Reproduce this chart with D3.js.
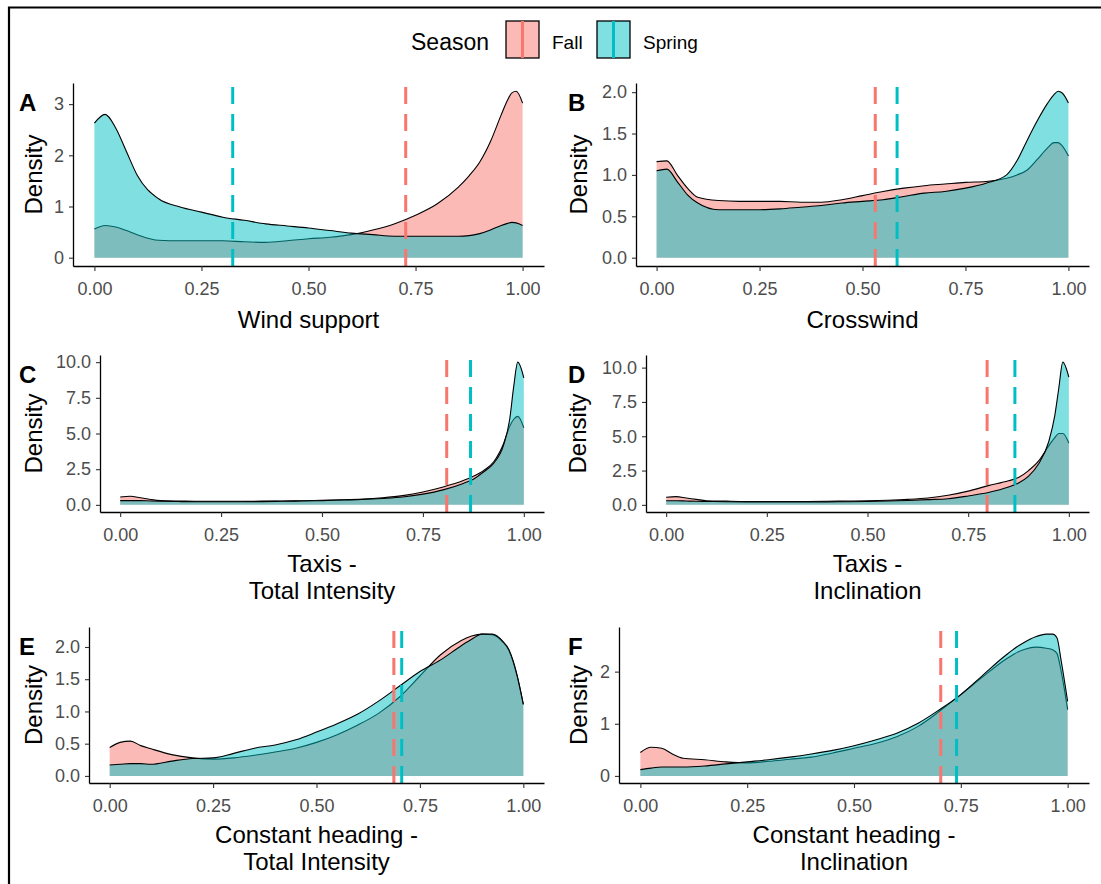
<!DOCTYPE html>
<html>
<head>
<meta charset="utf-8">
<script src="https://cdn.jsdelivr.net/npm/d3@7"></script>
<style>
  body { margin: 0; background: #fff; }
  svg { display: block; }
</style>
</head>
<body>
<div id="chart"></div>
<script>
  // Density curves on a shared x grid
  const xGrid = [0, 0.025, 0.05, 0.075, 0.1, 0.15, 0.2, 0.25, 0.3, 0.35, 0.4, 0.45, 0.5, 0.55,
    0.6, 0.65, 0.7, 0.75, 0.8, 0.85, 0.875, 0.9, 0.925, 0.95, 0.965, 0.975, 0.985, 1];

  const windFall = [0.56, 0.63, 0.60, 0.53, 0.45, 0.34, 0.33, 0.33, 0.33, 0.31, 0.30, 0.33, 0.37, 0.40,
    0.45, 0.54, 0.66, 0.83, 1.05, 1.38, 1.60, 1.87, 2.27, 2.79, 3.08, 3.22, 3.25, 3.02];
  const windSpring = [2.63, 2.80, 2.53, 2.07, 1.61, 1.15, 0.99, 0.89, 0.79, 0.73, 0.66, 0.62, 0.58, 0.53,
    0.48, 0.45, 0.42, 0.42, 0.42, 0.42, 0.43, 0.47, 0.54, 0.63, 0.67, 0.69, 0.68, 0.63];

  const crossFall = [1.16, 1.17, 1.00, 0.84, 0.73, 0.69, 0.68, 0.68, 0.68, 0.67, 0.67, 0.70, 0.75, 0.80,
    0.84, 0.87, 0.89, 0.91, 0.92, 0.96, 1.00, 1.06, 1.19, 1.33, 1.39, 1.39, 1.35, 1.23];
  const crossSpring = [1.05, 1.07, 0.92, 0.76, 0.66, 0.58, 0.58, 0.58, 0.59, 0.61, 0.63, 0.66, 0.68, 0.70,
    0.74, 0.78, 0.80, 0.84, 0.90, 1.00, 1.17, 1.42, 1.66, 1.87, 1.97, 2.01, 1.99, 1.87];

  const taxisIntFall = [0.55, 0.60, 0.50, 0.38, 0.30, 0.27, 0.25, 0.25, 0.25, 0.26, 0.27, 0.29, 0.32, 0.35,
    0.40, 0.50, 0.65, 0.90, 1.25, 1.70, 2.00, 2.40, 3.00, 4.30, 5.50, 6.00, 6.20, 5.40];
  const taxisIntSpring = [0.30, 0.30, 0.30, 0.27, 0.25, 0.23, 0.22, 0.22, 0.22, 0.23, 0.25, 0.27, 0.30, 0.34,
    0.38, 0.45, 0.55, 0.75, 1.05, 1.50, 1.80, 2.30, 2.90, 4.20, 6.00, 8.30, 10.0, 8.90];

  const taxisIncFall = [0.55, 0.60, 0.50, 0.40, 0.30, 0.27, 0.25, 0.25, 0.25, 0.25, 0.26, 0.28, 0.30, 0.34,
    0.40, 0.50, 0.70, 1.00, 1.40, 1.75, 2.00, 2.50, 3.20, 4.30, 4.90, 5.20, 5.20, 4.50];
  const taxisIncSpring = [0.30, 0.30, 0.28, 0.26, 0.25, 0.23, 0.22, 0.22, 0.22, 0.22, 0.22, 0.23, 0.25, 0.28,
    0.32, 0.38, 0.45, 0.65, 0.90, 1.30, 1.60, 2.10, 3.00, 4.60, 6.50, 8.50, 10.4, 9.30];

  const headIntFall = [0.44, 0.52, 0.54, 0.47, 0.42, 0.33, 0.28, 0.26, 0.28, 0.32, 0.37, 0.43, 0.52, 0.64,
    0.79, 0.97, 1.22, 1.55, 1.88, 2.10, 2.17, 2.20, 2.19, 2.08, 1.95, 1.78, 1.55, 1.11];
  const headIntSpring = [0.17, 0.18, 0.19, 0.19, 0.18, 0.23, 0.27, 0.28, 0.35, 0.43, 0.48, 0.56, 0.68, 0.81,
    0.96, 1.16, 1.39, 1.62, 1.80, 2.02, 2.12, 2.20, 2.20, 2.09, 1.96, 1.79, 1.56, 1.11];

  const headIncFall = [0.45, 0.55, 0.53, 0.42, 0.34, 0.31, 0.27, 0.25, 0.28, 0.32, 0.36, 0.44, 0.53, 0.62,
    0.75, 0.95, 1.24, 1.56, 1.89, 2.21, 2.34, 2.43, 2.47, 2.45, 2.42, 2.35, 2.00, 1.27];
  const headIncSpring = [0.12, 0.15, 0.17, 0.17, 0.17, 0.19, 0.23, 0.27, 0.31, 0.36, 0.42, 0.49, 0.58, 0.69,
    0.82, 1.01, 1.27, 1.56, 1.92, 2.28, 2.44, 2.57, 2.67, 2.72, 2.72, 2.65, 2.20, 1.43];

  // Season means (dashed lines), panels A-F
  const meanFall = [0.727, 0.531, 0.809, 0.797, 0.687, 0.703];
  const meanSpring = [0.323, 0.584, 0.868, 0.866, 0.706, 0.740];

  const seasons = ["Fall", "Spring"];
  const panelLetters = ["A", "B", "C", "D", "E", "F"];
  const xTitles = [["Wind support"], ["Crosswind"], ["Taxis -", "Total Intensity"], ["Taxis -", "Inclination"],
    ["Constant heading -", "Total Intensity"], ["Constant heading -", "Inclination"]];
  const xTicks = [0, 0.25, 0.5, 0.75, 1];
  const yTicks = [[0, 1, 2, 3], [0, 0.5, 1, 1.5, 2], [0, 2.5, 5, 7.5, 10], [0, 2.5, 5, 7.5, 10],
    [0, 0.5, 1, 1.5, 2], [0, 1, 2]];
  const yTickFormats = ["d", ".1f", ".1f", ".1f", ".1f", "d"];

  const fallSeries = [windFall, crossFall, taxisIntFall, taxisIncFall, headIntFall, headIncFall];
  const springSeries = [windSpring, crossSpring, taxisIntSpring, taxisIncSpring, headIntSpring, headIncSpring];

  // Layout
  const width = 1101, height = 884;
  const font = "'Liberation Sans', Arial, sans-serif";
  const colors = { Fall: "#F8766D", Spring: "#00BFC4" };
  const boxes = [
    { left: 73, right: 544, top: 83, bottom: 266, densX: 42, titleY: 328 },
    { left: 636, right: 1089, top: 83, bottom: 266, densX: 587, titleY: 328 },
    { left: 100, right: 544, top: 355, bottom: 512, densX: 42, titleY: 572 },
    { left: 646, right: 1089, top: 355, bottom: 512, densX: 586, titleY: 572 },
    { left: 89, right: 544, top: 627, bottom: 783, densX: 42, titleY: 843 },
    { left: 619, right: 1089, top: 627, bottom: 783, densX: 587, titleY: 843 }
  ];

  const svg = d3.select("#chart")
    .append("svg")
    .attr("width", width)
    .attr("height", height)
    .style("font-family", font);

  // outer frame (top and left edges only)
  svg.append("path")
    .attr("d", `M9,${height} V7.5 H${width}`)
    .attr("fill", "none")
    .attr("stroke", "#000")
    .attr("stroke-width", 2.2);

  boxes.forEach((b, i) => {
    const fall = fallSeries[i], spring = springSeries[i];
    const ymax = d3.max(fall.concat(spring));
    const x = d3.scaleLinear().domain([-0.05, 1.05]).range([b.left, b.right]);
    const y = d3.scaleLinear().domain([-0.05 * ymax, 1.05 * ymax]).range([b.bottom, b.top]);

    const area = d3.area()
      .x((d, j) => x(xGrid[j]))
      .y0(y(0))
      .y1(d => y(d))
      .curve(d3.curveMonotoneX);
    const line = d3.line()
      .x((d, j) => x(xGrid[j]))
      .y(d => y(d))
      .curve(d3.curveMonotoneX);

    const g = svg.append("g");

    [fall, spring].forEach((series, k) => {
      g.append("path")
        .attr("d", area(series))
        .attr("fill", colors[seasons[k]])
        .attr("fill-opacity", 0.5);
      g.append("path")
        .attr("d", line(series))
        .attr("fill", "none")
        .attr("stroke", "#000")
        .attr("stroke-width", 1.1);
    });

    // mean lines
    [meanFall[i], meanSpring[i]].forEach((m, k) => {
      g.append("line")
        .attr("x1", x(m)).attr("x2", x(m))
        .attr("y1", b.bottom).attr("y2", b.top)
        .attr("stroke", colors[seasons[k]])
        .attr("stroke-width", 3)
        .attr("stroke-dasharray", "17,10");
    });

    // axes
    const xAxis = g.append("g")
      .attr("transform", `translate(0,${b.bottom})`)
      .call(d3.axisBottom(x).tickValues(xTicks).tickFormat(d3.format(".2f"))
        .tickSize(5).tickPadding(11).tickSizeOuter(0));
    const yAxis = g.append("g")
      .attr("transform", `translate(${b.left},0)`)
      .call(d3.axisLeft(y).tickValues(yTicks[i]).tickFormat(d3.format(yTickFormats[i]))
        .tickSize(4).tickPadding(5).tickSizeOuter(0));

    [xAxis, yAxis].forEach(ax => {
      ax.attr("font-family", font).attr("font-size", 18);
      ax.select(".domain").attr("stroke", "#000").attr("stroke-width", 1.3);
      ax.selectAll(".tick line").attr("stroke", "#333").attr("stroke-width", 1.1);
      ax.selectAll(".tick text").attr("fill", "#4D4D4D");
    });

    // axis titles
    const xt = g.append("text")
      .attr("x", (b.left + b.right) / 2)
      .attr("y", b.titleY)
      .attr("text-anchor", "middle")
      .attr("font-size", 24)
      .attr("fill", "#000");
    xTitles[i].forEach((t, k) => {
      xt.append("tspan")
        .attr("x", (b.left + b.right) / 2)
        .attr("y", b.titleY + k * 27)
        .text(t);
    });

    g.append("text")
      .attr("transform", `translate(${b.densX},${(b.top + b.bottom) / 2}) rotate(-90)`)
      .attr("text-anchor", "middle")
      .attr("font-size", 24)
      .attr("fill", "#000")
      .text("Density");

    // panel letter
    g.append("text")
      .attr("x", i % 2 === 0 ? 19 : 568)
      .attr("y", b.top + 28)
      .attr("font-size", 24)
      .attr("font-weight", "bold")
      .attr("fill", "#000")
      .text(panelLetters[i]);
  });

  // legend
  const legend = svg.append("g");
  legend.append("text")
    .attr("x", 411)
    .attr("y", 50)
    .attr("font-size", 23)
    .attr("fill", "#000")
    .text("Season");

  const keyX = [506, 597];
  seasons.forEach((s, k) => {
    legend.append("rect")
      .attr("x", keyX[k]).attr("y", 21)
      .attr("width", 33).attr("height", 37)
      .attr("fill", colors[s])
      .attr("fill-opacity", 0.5)
      .attr("stroke", "#000")
      .attr("stroke-width", 1.3);
    legend.append("line")
      .attr("x1", keyX[k] + 16.5).attr("x2", keyX[k] + 16.5)
      .attr("y1", 21).attr("y2", 58)
      .attr("stroke", colors[s])
      .attr("stroke-width", 3);
    legend.append("text")
      .attr("x", keyX[k] + 46)
      .attr("y", 49)
      .attr("font-size", 19)
      .attr("fill", "#000")
      .text(s);
  });
</script>
</body>
</html>
